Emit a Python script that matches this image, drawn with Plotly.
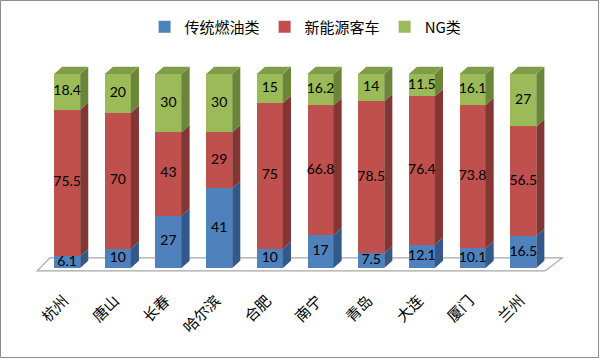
import plotly.graph_objects as go

cities = ['杭州', '唐山', '长春', '哈尔滨', '合肥', '南宁', '青岛', '大连', '厦门', '兰州']
series_names = ['传统燃油类', '新能源客车', 'NG类']
fuel = [6.1, 10, 27, 41, 10, 17, 7.5, 12.1, 10.1, 16.5]
new_energy = [75.5, 70, 43, 29, 75, 66.8, 78.5, 76.4, 73.8, 56.5]
ng = [18.4, 20, 30, 30, 15, 16.2, 14, 11.5, 16.1, 27]

front_colors = ['#4F81BD', '#C0504D', '#9BBB59']
side_colors = ['#33598A', '#843634', '#6B8539']
top_color = '#7F9D49'

series = [fuel, new_energy, ng]
n = len(cities)
xs = list(range(n))
W = 0.514          # bar front width (category units)
DX = 0.16          # depth offset x
DY = 3.7           # depth offset y
FONT_CJK = 'Noto Sans CJK SC'

fig = go.Figure()

# front faces
for k, vals in enumerate(series):
    fig.add_trace(go.Bar(
        x=xs, y=vals, name=series_names[k], width=W,
        marker=dict(color=front_colors[k], line=dict(width=0)),
        hoverinfo='skip'))

# side faces and top faces
bases = [0.0] * n
for k, vals in enumerate(series):
    px, py = [], []
    for i in range(n):
        y0 = bases[i]
        y1 = y0 + vals[i]
        xr = xs[i] + W / 2
        px += [xr, xr + DX, xr + DX, xr, xr, None]
        py += [y0, y0 + DY, y1 + DY, y1, y0, None]
    fig.add_trace(go.Scatter(x=px, y=py, mode='lines', fill='toself',
                             fillcolor=side_colors[k], line=dict(width=0, color=side_colors[k]),
                             showlegend=False, hoverinfo='skip'))
    bases = [bases[i] + vals[i] for i in range(n)]

tx, ty = [], []
for i in range(n):
    xl = xs[i] - W / 2
    xr = xs[i] + W / 2
    top = bases[i]
    tx += [xl, xl + DX, xr + DX, xr, xl, None]
    ty += [top, top + DY, top + DY, top, top, None]
fig.add_trace(go.Scatter(x=tx, y=ty, mode='lines', fill='toself',
                         fillcolor=top_color, line=dict(width=0, color=top_color),
                         showlegend=False, hoverinfo='skip'))

# data labels
lx, ly, lt = [], [], []
cum = [0.0] * n
for vals in series:
    for i in range(n):
        lx.append(xs[i])
        ly.append(cum[i] + vals[i] / 2)
        lt.append(f'{vals[i]:g}')
        cum[i] += vals[i]
fig.add_trace(go.Scatter(x=lx, y=ly, text=lt, mode='text', textposition='middle center',
                         textfont=dict(family='Lato', size=14, color='#000000'),
                         showlegend=False, hoverinfo='skip'))

# floor (3-D base plane)
fx0, fx1 = -0.59, n - 1 + 0.43
floor_path = (f'M {fx0},{-1.5} L {fx1},{-1.5} L {fx1 + 0.34},{5.2} '
              f'L {fx0 + 0.25},{5.2} Z')
shapes = [dict(type='path', xref='x', yref='y', path=floor_path, layer='below',
               fillcolor='white', line=dict(color='#A6A6A6', width=1.2))]

ML, MR, MT, MB = 20, 20, 55, 77
PW, PH = 600 - ML - MR, 359 - MT - MB
shapes.append(dict(type='rect', xref='paper', yref='paper',
                   x0=-(ML - 0.5) / PW, x1=1 + (MR - 1.5) / PW,
                   y0=-(MB - 1.5) / PH, y1=1 + (MT - 0.5) / PH,
                   line=dict(color='#8C8C8C', width=1), layer='above'))

fig.update_layout(
    width=600, height=359,
    margin=dict(l=ML, r=MR, t=MT, b=MB, autoexpand=False),
    barmode='stack', bargap=0,
    plot_bgcolor='white', paper_bgcolor='white',
    showlegend=True,
    legend=dict(orientation='h', x=0.51, xanchor='center', yref='paper',
                y=1 + (MT - 27) / PH, yanchor='middle',
                font=dict(family=FONT_CJK, size=15, color='#000000'),
                itemwidth=30, traceorder='normal'),
    xaxis=dict(range=[-0.93, 10.12], tickvals=xs, ticktext=cities, tickangle=-45,
               showgrid=False, zeroline=False, showline=False, ticks='',
               automargin=False, ticklabelstandoff=6, ticklabelshift=-3,
               tickfont=dict(family=FONT_CJK, size=15, color='#000000')),
    yaxis=dict(range=[-7.2, 109.8], visible=False, automargin=False),
    shapes=shapes,
)

fig.write_html('out.html', config={'displayModeBar': False},
               post_script="document.body.style.margin='0';document.body.style.overflow='hidden';")
